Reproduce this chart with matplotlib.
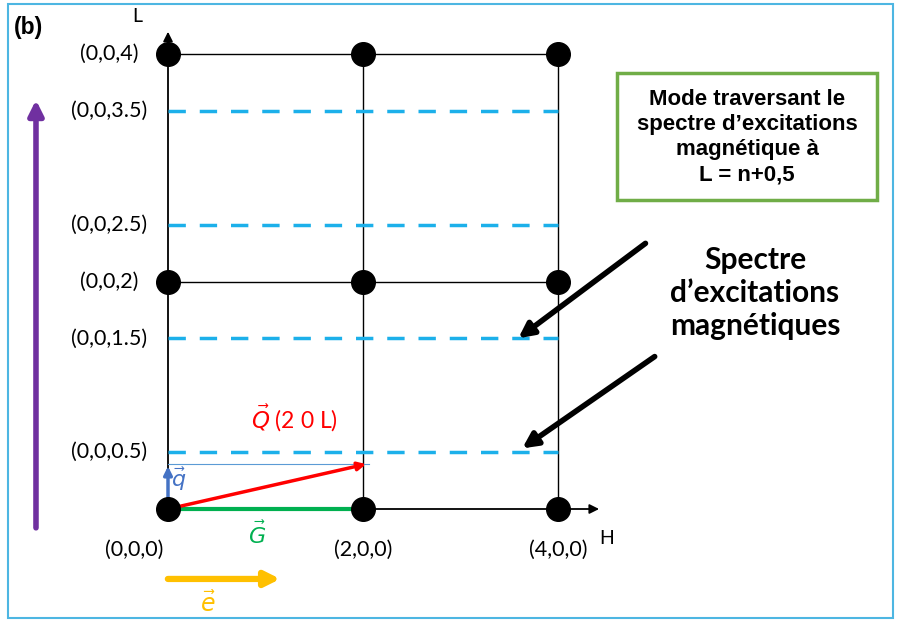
import matplotlib.pyplot as plt
from matplotlib.patches import Rectangle

plt.rcParams['font.family'] = ['Lato', 'DejaVu Sans']
plt.rcParams['mathtext.fontset'] = 'dejavusans'

# Reciprocal lattice nodes (H, L) and half-integer L lines
node_h = [0, 2, 4, 0, 2, 4, 0, 2, 4]
node_l = [0, 0, 0, 2, 2, 2, 4, 4, 4]
grid_l = [0, 2, 4]
grid_h = [0, 2, 4]
half_l = [0.5, 1.5, 2.5, 3.5]
left_labels = ['(0,0,4)', '(0,0,3.5)', '(0,0,2.5)', '(0,0,2)', '(0,0,1.5)', '(0,0,0.5)']
left_pos = [4, 3.5, 2.5, 2, 1.5, 0.5]
bottom_labels = ['(0,0,0)', '(2,0,0)', '(4,0,0)']
bottom_pos = [-0.35, 2, 4]
q_tip = (2.06, 0.40)
G_end = 1.95

fig = plt.figure(figsize=(8.98, 6.23), dpi=100)
ax = fig.add_axes([0, 0, 1, 1])
ax.set_xlim(-168 / 97.5, (898 - 168) / 97.5)
ax.set_ylim(-114 / 113.75, 509 / 113.75)
ax.axis('off')

# outer frame
fig.patches.append(Rectangle((8 / 898, 5 / 623), 885 / 898, 614 / 623, transform=fig.transFigure,
                             fill=False, edgecolor='#4db6e2', linewidth=1.5))

# grid lines
for l in grid_l[1:]:
    ax.plot([0, 4], [l, l], color='black', lw=1, zorder=1)
for h in grid_h[1:]:
    ax.plot([h, h], [0, 4], color='black', lw=1, zorder=1)
# axes with arrows
ax.annotate('', xy=(4.45, 0), xytext=(0, 0),
            arrowprops=dict(arrowstyle='-|>', color='black', lw=1.3, mutation_scale=14), zorder=1)
ax.annotate('', xy=(0, 4.22), xytext=(0, 0),
            arrowprops=dict(arrowstyle='-|>', color='black', lw=1.3, mutation_scale=14), zorder=1)
ax.text(-0.32, 4.33, 'L', fontsize=14, ha='center', va='center')
ax.text(4.50, -0.255, 'H', fontsize=14, ha='center', va='center')

# dashed half-integer lines
for l in half_l:
    ax.plot([0, 4], [l, l], color='#1cb0ea', lw=2.5, dashes=(5, 4), zorder=2)

for lab, l in zip(left_labels, left_pos):
    ax.text(-0.605, l, lab, fontsize=15.5, ha='center', va='center')
for lab, h in zip(bottom_labels, bottom_pos):
    ax.text(h, -0.36, lab, fontsize=15.5, ha='center', va='center')

# vectors
ax.plot([0, q_tip[0]], [q_tip[1], q_tip[1]], color='#5b9bd5', lw=0.8, zorder=3)
ax.plot([0, G_end], [0, 0], color='#00b050', lw=3, zorder=4)
ax.annotate('', xy=(0, q_tip[1]), xytext=(0, 0),
            arrowprops=dict(arrowstyle='-|>', color='#4472c4', lw=2.5, mutation_scale=12), zorder=4)
ax.annotate('', xy=q_tip, xytext=(0, 0),
            arrowprops=dict(arrowstyle='-|>', color='#ff0000', lw=2.5, mutation_scale=12), zorder=4)
ax.text(0.11, 0.26, r'$\vec{q}$', color='#4472c4', fontsize=16, ha='center', va='center')
ax.text(1.30, 0.80, r'$\vec{Q}$ (2 0 L)', color='#ff0000', fontsize=16.5, ha='center', va='center')
ax.text(0.91, -0.22, r'$\vec{G}$', color='#00b050', fontsize=16, ha='center', va='center')

ax.plot(node_h, node_l, 'o', color='black', markersize=17, zorder=5)

# purple and orange arrows
ax.annotate('', xy=(-1.354, 3.62), xytext=(-1.354, -0.19),
            arrowprops=dict(arrowstyle='-|>', color='#7030a0', lw=4, mutation_scale=22))
ax.annotate('', xy=(1.18, -0.615), xytext=(-0.03, -0.615),
            arrowprops=dict(arrowstyle='-|>', color='#ffc000', lw=4.5, mutation_scale=22))
ax.text(0.41, -0.83, r'$\vec{e}$', color='#ffc000', fontsize=17, ha='center', va='center')

ax.text(-1.58, 4.23, '(b)', fontsize=16.5, fontweight='bold', ha='left', va='center',
        family=['Liberation Sans'])

# annotation box
ax.add_patch(Rectangle((4.605, 2.72), 2.665, 1.11, fill=False, edgecolor='#70ad47', lw=2.5))
ax.text(5.94, 3.27, 'Mode traversant le\nspectre d\u2019excitations\nmagnétique à\nL = n+0,5',
        fontsize=16, fontweight='bold', ha='center', va='center', linespacing=1.27,
        family=['Liberation Sans'])
ax.text(6.02, 1.90, 'Spectre\nd\u2019excitations\nmagnétiques', fontsize=21.5, fontweight='bold',
        ha='center', va='center', linespacing=1.22)

ax.annotate('', xy=(3.57, 1.486), xytext=(4.92, 2.35),
            arrowprops=dict(arrowstyle='-|>', color='black', lw=4, mutation_scale=22))
ax.annotate('', xy=(3.61, 0.519), xytext=(5.015, 1.354),
            arrowprops=dict(arrowstyle='-|>', color='black', lw=4, mutation_scale=22))

plt.savefig('out.png', dpi=100)
